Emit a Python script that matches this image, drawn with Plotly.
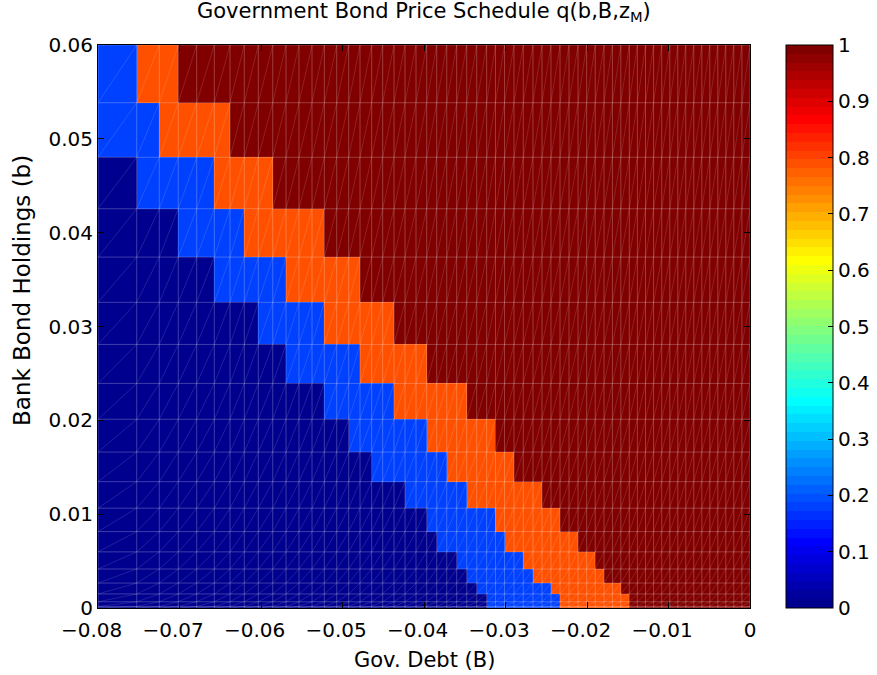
import plotly.graph_objects as go

# ---------------- data ----------------
# Gov. debt grid B (cell edges, non-uniform)
B_grid = [-0.08000, -0.07525, -0.07248, -0.07015, -0.06789, -0.06573, -0.06380, -0.06205, -0.06033, -0.05856,
          -0.05693, -0.05534, -0.05374, -0.05223, -0.05071, -0.04924, -0.04785, -0.04642, -0.04507, -0.04368,
          -0.04233, -0.04098, -0.03967, -0.03844, -0.03721, -0.03599, -0.03476, -0.03353, -0.03231, -0.03123,
          -0.03012, -0.02896, -0.02782, -0.02663, -0.02552, -0.02442, -0.02331, -0.02221, -0.02110, -0.02004,
          -0.01899, -0.01791, -0.01688, -0.01585, -0.01481, -0.01382, -0.01282, -0.01183, -0.01083, -0.00984,
          -0.00886, -0.00788, -0.00690, -0.00591, -0.00493, -0.00395, -0.00297, -0.00199, -0.00099, 0.00000]

# Bank bond holdings grid b (cell edges, denser near 0)
b_grid = [0.0, 0.000166, 0.000665, 0.001496, 0.002659, 0.004155, 0.005983, 0.008144, 0.010637, 0.013463,
          0.016620, 0.020111, 0.023934, 0.028089, 0.032576, 0.037396, 0.042548, 0.048033, 0.053850, 0.06]

# price levels of the four regions
price_levels = [0.0, 0.18, 0.79, 0.99]

# for each b-row (bottom to top): B-grid index where the 1st, 2nd and 3rd region end
end_low = [28, 28, 28, 27, 26, 25, 23, 22, 20, 17, 15, 13, 10, 8, 5, 3, 1, 0, 0]
end_mid = [36, 36, 36, 35, 33, 32, 30, 29, 26, 24, 22, 19, 16, 13, 10, 7, 5, 2, 1]
end_high = [44, 44, 44, 43, 41, 40, 38, 36, 34, 31, 29, 26, 22, 19, 16, 13, 9, 6, 3]

x_ticks = [-0.08, -0.07, -0.06, -0.05, -0.04, -0.03, -0.02, -0.01, 0.0]
x_ticktext = ["\u22120.08\u2007", "\u22120.07\u2007", "\u22120.06\u2007", "\u22120.05\u2007",
              "\u22120.04\u2007", "\u22120.03\u2007", "\u22120.02\u2007", "\u22120.01\u2007", "0"]
y_ticks = [0.0, 0.01, 0.02, 0.03, 0.04, 0.05, 0.06]
y_ticktext = ["0", "0.01", "0.02", "0.03", "0.04", "0.05", "0.06"]
c_ticks = [0.0, 0.1, 0.2, 0.3, 0.4, 0.5, 0.6, 0.7, 0.8, 0.9, 1.0]
c_ticktext = ["0", "0.1", "0.2", "0.3", "0.4", "0.5", "0.6", "0.7", "0.8", "0.9", "1"]

# ---------------- build matrix ----------------
ncol = len(B_grid) - 1
z = []
for r in range(len(b_grid) - 1):
    row = []
    for j in range(ncol):
        if j < end_low[r]:
            row.append(price_levels[0])
        elif j < end_mid[r]:
            row.append(price_levels[1])
        elif j < end_high[r]:
            row.append(price_levels[2])
        else:
            row.append(price_levels[3])
    z.append(row)

# MATLAB jet(64) colormap, stepped
m = 64
n = 16
u = [(i + 1) / n for i in range(n)] + [1.0] * (n - 1) + [(n - i) / n for i in range(n)]
g_idx = [n // 2 + i for i in range(len(u))]  # 0-based rows
J = [[0.0, 0.0, 0.0] for _ in range(m)]
for k, val in enumerate(u):
    gr = g_idx[k]
    rr = gr + n
    br = gr - n
    if 0 <= rr < m:
        J[rr][0] = val
    if 0 <= gr < m:
        J[gr][1] = val
    if 0 <= br < m:
        J[br][2] = val
colorscale = []
for k in range(m):
    c = "rgb(%d,%d,%d)" % tuple(round(255 * v) for v in J[k])
    colorscale.append([k / m, c])
    colorscale.append([(k + 1) / m, c])

FONT = "DejaVu Sans"
FS = 20

fig = go.Figure()
fig.add_trace(go.Heatmap(
    x=B_grid, y=b_grid, z=z, zmin=0, zmax=1, zsmooth=False,
    colorscale=colorscale, hoverinfo="skip",
    colorbar=dict(
        thickness=47, thicknessmode="pixels", len=1, lenmode="fraction",
        x=1.0552, xanchor="left", xpad=0, y=0.5, yanchor="middle", ypad=0,
        tickvals=c_ticks, ticktext=c_ticktext, ticks="inside", ticklen=5,
        tickcolor="black", outlinewidth=1, outlinecolor="black",
        tickfont=dict(family=FONT, size=FS, color="black"),
    ),
))

# mesh lines
vx, vy = [], []
for xv in B_grid:
    vx += [xv, xv, None]
    vy += [b_grid[0], b_grid[-1], None]
for yv in b_grid:
    vx += [B_grid[0], B_grid[-1], None]
    vy += [yv, yv, None]
fig.add_trace(go.Scatter(x=vx, y=vy, mode="lines", hoverinfo="skip", showlegend=False,
                         line=dict(color="rgba(255,255,255,0.24)", width=1)))
dx, dy = [], []
for i in range(len(b_grid) - 1):
    for j in range(ncol):
        dx += [B_grid[j], B_grid[j + 1], None]
        dy += [b_grid[i], b_grid[i + 1], None]
fig.add_trace(go.Scatter(x=dx, y=dy, mode="lines", hoverinfo="skip", showlegend=False,
                         line=dict(color="rgba(255,255,255,0.13)", width=1)))

axis_common = dict(showgrid=False, zeroline=False, showline=True, mirror="allticks",
                   linecolor="black", linewidth=1, ticks="inside", ticklen=6, tickcolor="black",
                   tickfont=dict(family=FONT, size=FS, color="black"))
fig.update_xaxes(range=[-0.08, 0], tickvals=x_ticks, ticktext=x_ticktext,
                 ticklabelstandoff=4, **axis_common)
fig.update_yaxes(range=[0, 0.06], tickvals=y_ticks, ticktext=y_ticktext, **axis_common)

fig.update_layout(
    width=877, height=675,
    margin=dict(l=98, r=127, t=45, b=67, autoexpand=False),
    paper_bgcolor="white", plot_bgcolor="white",
    showlegend=False,
    annotations=[
        dict(text="Government Bond Price Schedule q(b,B,z<sub>M</sub>)", x=0.5, y=1.0586,
             xref="paper", yref="paper", xanchor="center", yanchor="middle", showarrow=False,
             font=dict(family=FONT, size=FS + 1, color="black")),
        dict(text="Gov. Debt (B)", x=0.5, y=-0.0924, xref="paper", yref="paper",
             xanchor="center", yanchor="middle", showarrow=False,
             font=dict(family=FONT, size=FS + 1, color="black")),
        dict(text="Bank Bond Holdings (b)", x=-0.1166, y=0.5648, xref="paper", yref="paper",
             xanchor="center", yanchor="middle", textangle=-90, showarrow=False,
             font=dict(family=FONT, size=FS + 3, color="black")),
    ],
)

fig.write_html("out.html")
